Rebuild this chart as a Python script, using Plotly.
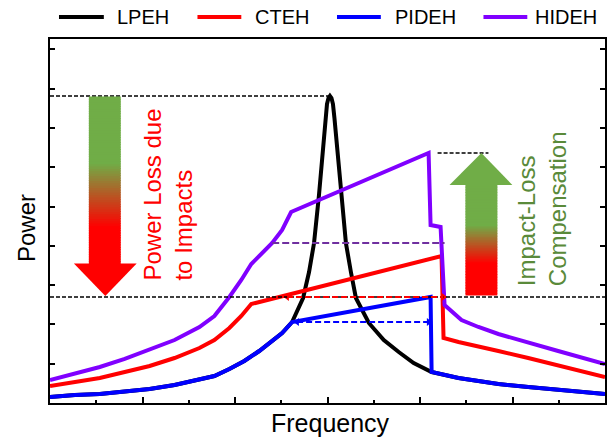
import plotly.graph_objects as go

# ---------------- data (arbitrary units) ----------------
freq_lpeh = [0, 0.539, 1.077, 1.616, 2.154, 2.693, 3.231, 3.554, 3.878, 4.201, 4.524, 4.782,
             5.019, 5.235, 5.472, 5.601, 5.709, 5.816, 5.924, 5.957, 5.989, 6.021, 6.053,
             6.086, 6.118, 6.150, 6.183, 6.290, 6.398, 6.506, 6.614, 6.894, 7.217, 7.540,
             7.863, 8.251, 8.832, 9.263, 9.694, 10.340, 10.987, 12]
pow_lpeh = [0.153, 0.204, 0.229, 0.280, 0.356, 0.458, 0.585, 0.687, 0.865, 1.069, 1.323, 1.552,
            1.781, 2.061, 2.672, 3.333, 4.071, 5.293, 6.819, 7.252, 7.608, 7.760, 7.812,
            7.760, 7.608, 7.252, 6.819, 5.293, 4.071, 3.333, 2.672, 2.036, 1.603, 1.298,
            1.018, 0.789, 0.636, 0.560, 0.483, 0.407, 0.331, 0.229]

freq_cteh = [0, 0.539, 1.077, 1.616, 2.154, 2.693, 3.231, 3.554, 3.878, 4.136, 4.352,
             8.466, 8.509, 8.832, 9.263, 9.694, 10.340, 10.987, 12]
pow_cteh = [0.433, 0.534, 0.636, 0.789, 0.941, 1.145, 1.399, 1.603, 1.908, 2.214, 2.519,
            3.740, 1.654, 1.552, 1.425, 1.323, 1.145, 0.967, 0.662]

freq_pideh = [0, 0.539, 1.077, 1.616, 2.154, 2.693, 3.231, 3.554, 3.878, 4.201, 4.524, 4.782,
              5.019, 5.235, 8.229, 8.251, 8.832, 9.263, 9.694, 10.340, 10.987, 12]
pow_pideh = [0.153, 0.204, 0.229, 0.280, 0.356, 0.458, 0.585, 0.687, 0.865, 1.069, 1.323, 1.552,
             1.781, 2.061, 2.697, 0.789, 0.636, 0.560, 0.483, 0.407, 0.331, 0.229]

freq_hideh = [0, 0.539, 1.077, 1.616, 2.154, 2.693, 3.231, 3.554, 3.878, 4.136, 4.352, 4.567,
              4.804, 5.019, 5.213, 8.186, 8.229, 8.445, 8.531, 8.897, 9.263, 9.694, 10.340,
              10.987, 12]
pow_hideh = [0.585, 0.738, 0.916, 1.120, 1.349, 1.603, 1.934, 2.214, 2.697, 3.130, 3.537, 3.791,
             4.071, 4.402, 4.860, 6.361, 4.529, 4.478, 2.494, 2.112, 1.934, 1.756, 1.552,
             1.323, 0.992]

series_names = ["LPEH", "CTEH", "PIDEH", "HIDEH"]
series_colors = ["#000000", "#FF0000", "#0000FF", "#8000FF"]

# reference spans (frequency units)
hideh_level_span = [4.804, 8.531]   # purple dashed level
cteh_band = [5.127, 8.509]          # red dashed double arrow
pideh_band = [5.343, 8.186]         # blue dashed double arrow
hideh_peak_mark = [8.38, 9.48]      # short black dashed at HIDEH maximum

texts = {"loss": "Power Loss due<br>to Impacts", "comp": "Impact-Loss<br>Compensation"}

# ---------------- figure ----------------
FONT = "Liberation Sans, Arial, sans-serif"
fig = go.Figure()

all_data = [(freq_lpeh, pow_lpeh), (freq_cteh, pow_cteh), (freq_pideh, pow_pideh), (freq_hideh, pow_hideh)]
for (fx, py), name, col in zip(all_data, series_names, series_colors):
    fig.add_trace(go.Scatter(x=fx, y=py, mode="lines", name=name,
                             line=dict(color=col, width=4),
                             showlegend=False, hoverinfo="skip"))

peak_lpeh = max(pow_lpeh)
peak_lpeh_x = freq_lpeh[pow_lpeh.index(peak_lpeh)]
peak_pideh = max(pow_pideh)
peak_hideh = max(pow_hideh)
level_hideh = pow_hideh[freq_hideh.index(4.804)]
level_pideh = pow_pideh[freq_pideh.index(5.235)]

# dashed reference lines
fig.add_shape(type="line", x0=0, x1=peak_lpeh_x, y0=peak_lpeh, y1=peak_lpeh,
              line=dict(color="black", width=1.5, dash="4px,2px"))
fig.add_shape(type="line", x0=0, x1=12, y0=peak_pideh, y1=peak_pideh,
              line=dict(color="black", width=1.5, dash="4px,2px"))
fig.add_shape(type="line", x0=hideh_peak_mark[0], x1=hideh_peak_mark[1], y0=peak_hideh, y1=peak_hideh,
              line=dict(color="black", width=1.5, dash="4px,2px"))
fig.add_shape(type="line", x0=hideh_level_span[0], x1=hideh_level_span[1], y0=level_hideh, y1=level_hideh,
              line=dict(color="#7030A0", width=2, dash="7px,3px"))
fig.add_shape(type="line", x0=cteh_band[0], x1=cteh_band[1], y0=peak_pideh, y1=peak_pideh,
              line=dict(color="#FF0000", width=2, dash="6px,3px"))
fig.add_shape(type="line", x0=pideh_band[0], x1=pideh_band[1], y0=level_pideh, y1=level_pideh,
              line=dict(color="#0000FF", width=2, dash="6px,3px"))

for band, lvl, col in [(cteh_band, peak_pideh, "#FF0000"), (pideh_band, level_pideh, "#0000FF")]:
    fig.add_trace(go.Scatter(x=band, y=[lvl, lvl], mode="markers", showlegend=False, hoverinfo="skip",
                             marker=dict(symbol=["triangle-left", "triangle-right"], size=7, color=col,
                                         line=dict(width=0))))

# gradient arrows
G = (112, 173, 71)
R = (255, 0, 0)


def blend(t):
    t = min(max(t, 0.0), 1.0)
    c = [round(G[k] + (R[k] - G[k]) * t) for k in range(3)]
    return "rgb(%d,%d,%d)" % tuple(c)


def shaft(x0, x1, y0, y1, y_green, y_red, n=70):
    step = (y1 - y0) / n
    for i in range(n):
        ya = y0 + i * step
        yb = y0 + (i + 1) * step
        ym = 0.5 * (ya + yb)
        t = (y_green - ym) / (y_green - y_red)
        fig.add_shape(type="rect", x0=x0, x1=x1, y0=ya - 0.01, y1=yb + 0.01,
                      fillcolor=blend(t), line=dict(width=0), layer="above")


# down arrow (power loss)
shaft(0.840, 1.530, 3.537, 7.786, 6.107, 4.478)
fig.add_shape(type="path", path="M 0.517,3.547 L 1.874,3.547 L 1.196,2.723 Z",
              fillcolor="rgb(255,0,0)", line=dict(width=0), layer="above")
# up arrow (compensation)
shaft(8.983, 9.672, 2.748, 5.557, 4.529, 3.562)
fig.add_shape(type="path", path="M 8.638,5.547 L 9.996,5.547 L 9.328,%.3f Z" % peak_hideh,
              fillcolor="rgb(112,173,71)", line=dict(width=0), layer="above")

fig.add_annotation(x=2.542, y=5.293, text=texts["loss"], textangle=-90, showarrow=False,
                   align="left", xanchor="center", yanchor="middle",
                   font=dict(family=FONT, size=24, color="#FF0000"))
fig.add_annotation(x=10.642, y=4.936, text=texts["comp"], textangle=-90, showarrow=False,
                   align="left", xanchor="center", yanchor="middle",
                   font=dict(family=FONT, size=24, color="#5A8A3A"))

# manual legend
leg_line_x = [(0.0162, 0.0970), (0.2657, 0.3447), (0.5171, 0.5961), (0.7810, 0.8600)]
leg_text_x = [0.1167, 0.3662, 0.6176, 0.8707]
leg_y = 1.0604
for name, col, (a, b), tx in zip(series_names, series_colors, leg_line_x, leg_text_x):
    fig.add_shape(type="line", xref="paper", yref="paper", x0=a, x1=b, y0=leg_y, y1=leg_y,
                  line=dict(color=col, width=4))
    fig.add_annotation(xref="paper", yref="paper", x=tx, y=leg_y, text=name, showarrow=False,
                       xanchor="left", yanchor="middle", font=dict(family=FONT, size=20, color="black"))

# axis titles
fig.add_annotation(xref="paper", yref="paper", x=0.506, y=-0.055, text="Frequency", showarrow=False,
                   xanchor="center", yanchor="middle", font=dict(family=FONT, size=25, color="black"))
fig.add_annotation(xref="paper", yref="paper", x=-0.0413, y=0.481, text="Power", showarrow=False,
                   textangle=-90, xanchor="center", yanchor="middle",
                   font=dict(family=FONT, size=24, color="black"))

fig.update_layout(
    width=615, height=438,
    margin=dict(l=50, r=8, t=39, b=35),
    plot_bgcolor="white", paper_bgcolor="white",
    showlegend=False,
    xaxis=dict(range=[0, 12], showgrid=False, zeroline=False, showticklabels=False,
               ticks="inside", dtick=2, tick0=0, ticklen=6, tickwidth=1.5, tickcolor="black",
               minor=dict(ticks="inside", dtick=1, ticklen=3, tickwidth=1.5, tickcolor="black"),
               showline=True, linewidth=2, linecolor="black", mirror=True),
    yaxis=dict(range=[0, 9.262], showgrid=False, zeroline=False, showticklabels=False,
               ticks="inside", dtick=1, tick0=0, ticklen=5, tickwidth=1.5, tickcolor="black",
               showline=True, linewidth=2, linecolor="black", mirror="ticks"),
)

fig.write_html("out.html")
